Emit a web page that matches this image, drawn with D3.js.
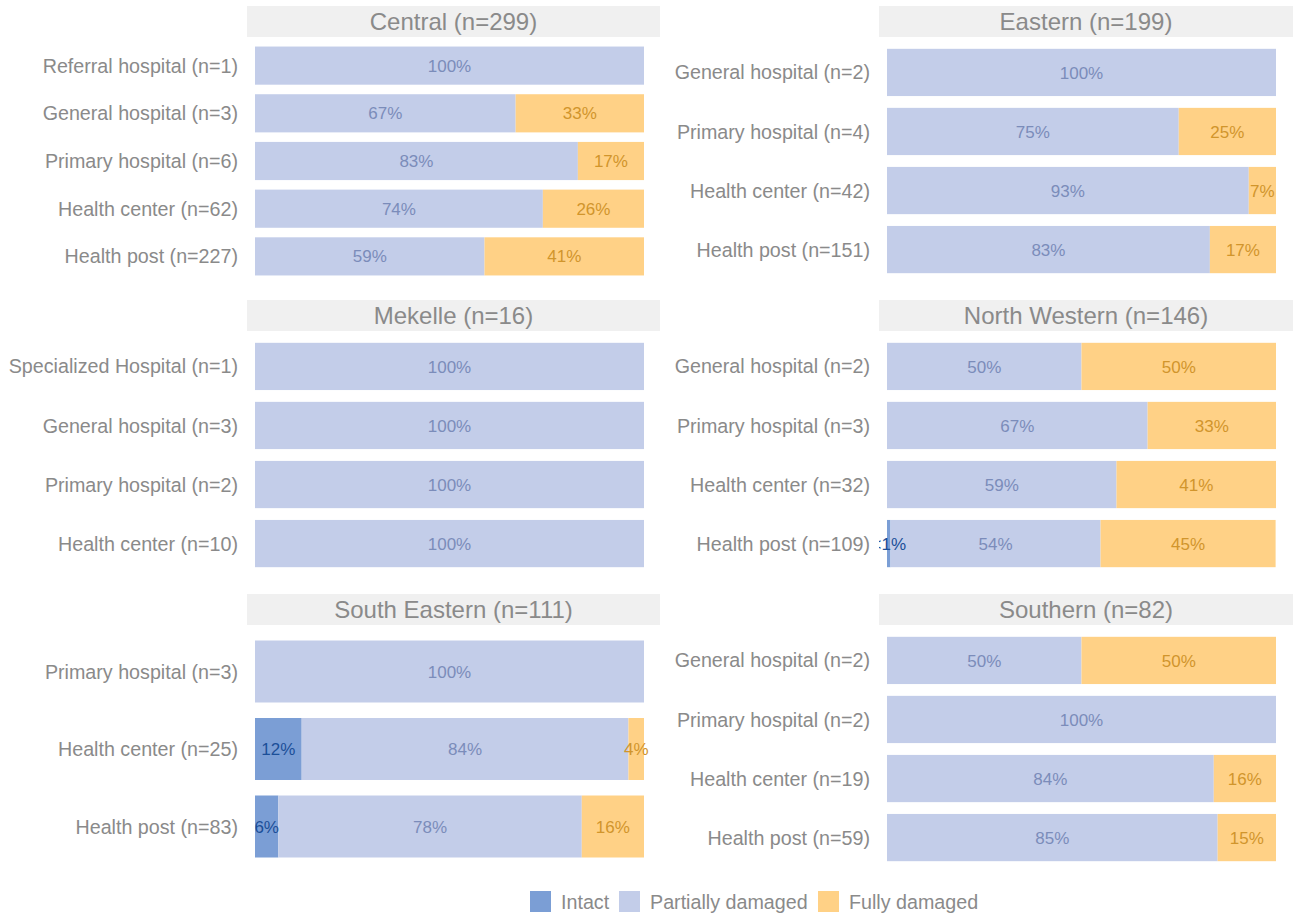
<!DOCTYPE html>
<html>
<head>
<meta charset="utf-8">
<script src="https://cdn.jsdelivr.net/npm/d3@7"></script>
<style>
  html, body { margin: 0; padding: 0; background: #ffffff; }
  svg { display: block; font-family: "Liberation Sans", Arial, Helvetica, sans-serif; }
</style>
</head>
<body>
<svg id="chart" width="1293" height="914"></svg>
<script>
// ---------------- DATA ----------------
const statuses = ["Intact", "Partially damaged", "Fully damaged"];

const regions = [
  "Central (n=299)", "Eastern (n=199)",
  "Mekelle (n=16)", "North Western (n=146)",
  "South Eastern (n=111)", "Southern (n=82)"
];

const centralCats = ["Referral hospital (n=1)", "General hospital (n=3)", "Primary hospital (n=6)", "Health center (n=62)", "Health post (n=227)"];
const centralIntact  = [0, 0, 0, 0, 0];
const centralPartial = [100, 67, 83, 74, 59];
const centralFully   = [0, 33, 17, 26, 41];

const easternCats = ["General hospital (n=2)", "Primary hospital (n=4)", "Health center (n=42)", "Health post (n=151)"];
const easternIntact  = [0, 0, 0, 0];
const easternPartial = [100, 75, 93, 83];
const easternFully   = [0, 25, 7, 17];

const mekelleCats = ["Specialized Hospital (n=1)", "General hospital (n=3)", "Primary hospital (n=2)", "Health center (n=10)"];
const mekelleIntact  = [0, 0, 0, 0];
const mekellePartial = [100, 100, 100, 100];
const mekelleFully   = [0, 0, 0, 0];

const northWesternCats = ["General hospital (n=2)", "Primary hospital (n=3)", "Health center (n=32)", "Health post (n=109)"];
const northWesternIntact  = [0, 0, 0, 0.9];
const northWesternPartial = [50, 67, 59, 54];
const northWesternFully   = [50, 33, 41, 45];

const southEasternCats = ["Primary hospital (n=3)", "Health center (n=25)", "Health post (n=83)"];
const southEasternIntact  = [0, 12, 6];
const southEasternPartial = [100, 84, 78];
const southEasternFully   = [0, 4, 16];

const southernCats = ["General hospital (n=2)", "Primary hospital (n=2)", "Health center (n=19)", "Health post (n=59)"];
const southernIntact  = [0, 0, 0, 0];
const southernPartial = [50, 100, 84, 85];
const southernFully   = [50, 0, 16, 15];

// ---------------- STYLE ----------------
const fillColors  = ["#7b9ed5", "#c3cde9", "#ffd186"];
const labelColors = ["#1b4f98", "#7b8cba", "#d1952c"];
const greyText = "#8a8a8a";
const stripFill = "#f0f0f0";

const panelData = [
  [centralCats, centralIntact, centralPartial, centralFully],
  [easternCats, easternIntact, easternPartial, easternFully],
  [mekelleCats, mekelleIntact, mekellePartial, mekelleFully],
  [northWesternCats, northWesternIntact, northWesternPartial, northWesternFully],
  [southEasternCats, southEasternIntact, southEasternPartial, southEasternFully],
  [southernCats, southernIntact, southernPartial, southernFully]
];

const colX = [247, 879];
const colW = [413, 414];
const rowTop = [6, 300, 594];
const stripH = 31;
const panelH = 248;
const axisFs = 19.7;

const svg = d3.select("#chart");
const defs = svg.append("defs");

panelData.forEach((pd, i) => {
  const [cats, intact, partial, fully] = pd;
  const col = i % 2, row = Math.floor(i / 2);
  const x0 = colX[col], w = colW[col];
  const yStrip = rowTop[row];
  const pTop = yStrip + stripH;

  const g = svg.append("g");

  // strip
  g.append("rect").attr("x", x0).attr("y", yStrip).attr("width", w).attr("height", stripH).attr("fill", stripFill);
  g.append("text").attr("x", x0 + w / 2).attr("y", yStrip + stripH / 2 + 0.358 * 24)
    .attr("text-anchor", "middle").attr("font-size", 24).attr("fill", greyText).text(regions[i]);

  const x = d3.scaleLinear().domain([0, 100]).range([x0 + 8, x0 + 397]);
  const y = d3.scaleBand().domain(cats).range([pTop, pTop + panelH]).paddingInner(0.2).paddingOuter(0.2);

  const clipId = "clip" + i;
  defs.append("clipPath").attr("id", clipId).append("rect")
    .attr("x", x0).attr("y", pTop).attr("width", w).attr("height", panelH);

  // y axis labels
  const yAxis = d3.axisLeft(y).tickSize(0).tickPadding(9);
  const ax = g.append("g").attr("transform", `translate(${x0},0)`).call(yAxis);
  ax.select(".domain").remove();
  ax.selectAll("text").attr("font-size", axisFs).attr("fill", greyText)
    .attr("font-family", "'Liberation Sans', Arial, sans-serif").attr("dy", null)
    .attr("y", 0.358 * axisFs);

  const rows = cats.map((c, k) => {
    const vals = [intact[k], partial[k], fully[k]];
    let cum = 0;
    return vals.map((v, s) => {
      const seg = { cat: c, s, v, start: cum, end: cum + v };
      cum += v;
      return seg;
    }).filter(d => d.v > 0);
  }).flat();

  const pg = g.append("g").attr("clip-path", `url(#${clipId})`);
  pg.selectAll("rect.bar").data(rows).join("rect")
    .attr("class", "bar")
    .attr("x", d => x(d.start))
    .attr("width", d => x(d.end) - x(d.start))
    .attr("y", d => y(d.cat))
    .attr("height", y.bandwidth())
    .attr("fill", d => fillColors[d.s]);

  pg.selectAll("text.lbl").data(rows).join("text")
    .attr("class", "lbl")
    .attr("x", d => (x(d.start) + x(d.end)) / 2)
    .attr("y", d => y(d.cat) + y.bandwidth() / 2 + 0.358 * 17)
    .attr("text-anchor", "middle")
    .attr("font-size", 17)
    .attr("fill", d => labelColors[d.s])
    .text(d => d.v < 1 ? "<1%" : Math.round(d.v) + "%");
});

// legend
const legendX = [530, 619, 818];
const lg = svg.append("g");
statuses.forEach((s, k) => {
  lg.append("rect").attr("x", legendX[k]).attr("y", 891).attr("width", 21).attr("height", 21).attr("fill", fillColors[k]);
  lg.append("text").attr("x", legendX[k] + 31).attr("y", 901.5 + 0.358 * axisFs)
    .attr("font-size", axisFs).attr("fill", greyText).text(s);
});
</script>
</body>
</html>
